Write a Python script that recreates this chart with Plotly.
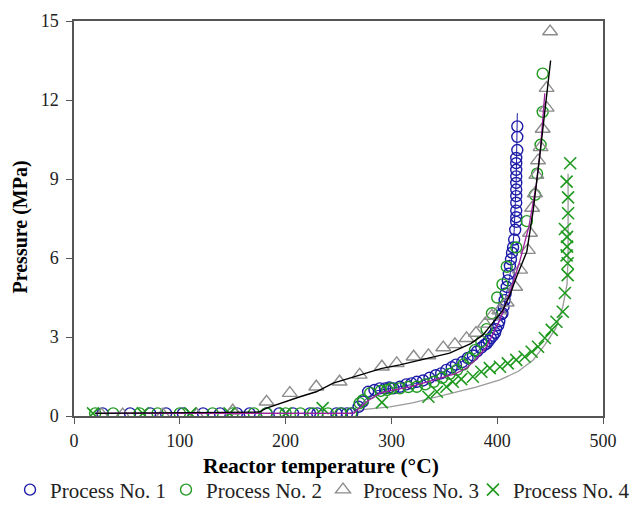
import plotly.graph_objects as go

# ---------------- data ----------------
p1_x = [27, 53, 72, 87, 103, 122, 138, 154, 166, 182, 194, 207, 223, 230, 248, 253, 258, 263,
        269, 273, 278, 284, 289, 294, 298, 302, 308, 314, 319, 324, 330, 336, 342, 347, 352, 357,
        361, 367, 372, 377, 381, 385, 388, 390, 392, 394, 396, 398, 399, 401, 402, 404,
        405, 406, 407, 408, 409, 410, 411, 412, 413, 414, 415, 416, 417, 418, 418, 418, 418,
        418, 418, 418, 418, 418, 418, 418, 419, 419, 419]
p1_y = [0.1] * 18 + [0.35, 0.55, 0.92, 0.99, 1.05, 1.05, 1.08, 1.05, 1.11, 1.2, 1.24, 1.3, 1.35,
        1.45, 1.55, 1.62, 1.75, 1.85, 1.95, 2.05, 2.2, 2.3, 2.45, 2.6, 2.7, 2.75, 2.85, 2.96,
        3.05, 3.16, 3.3, 3.45, 3.6, 3.86,
        3.9, 4.15, 4.4, 4.65, 4.9, 5.15, 5.4, 5.7, 5.95, 6.2, 6.4, 6.7, 7.07, 7.37, 7.55, 7.8,
        8.1, 8.35, 8.6, 8.85, 9.1, 9.35, 9.6, 9.8, 10.1, 10.6, 11.0, 11.13, 11.5]

p2_x = [20, 37, 62, 79, 100, 131, 150, 170, 182, 200, 214, 226, 240, 252, 262,
        270, 273, 280, 290, 296, 300, 308, 316, 324, 332, 340, 348, 355, 362, 368, 374, 379,
        385, 390, 395, 400, 405, 409, 418, 428, 435.7, 437.7, 441, 443, 443]
p2_y = [0.1, 0.1, 0.1, 0.1, 0.1, 0.1, 0.1, 0.1, 0.1, 0.1, 0.1, 0.1, 0.1, 0.1, 0.1,
        0.49, 0.6, 0.87, 0.95, 0.99, 1.05, 1.05, 1.1, 1.11, 1.2, 1.3, 1.45, 1.6, 1.75, 1.95, 2.2,
        2.5, 2.82, 3.3, 3.9, 4.5, 5.0, 5.67, 6.4, 7.4, 8.4, 9.2, 10.3, 11.55, 13.0]

p3_x = [26, 46, 84, 116, 150, 182, 204, 229, 251, 270, 291, 305, 321, 335, 349, 360, 371, 380,
        388.5, 395, 402, 409, 417, 421.6, 429, 431, 433, 435.7, 437, 438.6, 441, 443, 446.7,
        446.7, 450]
p3_y = [0.05, 0.05, 0.05, 0.05, 0.2, 0.54, 0.87, 1.11, 1.3, 1.56, 1.87, 2.0, 2.25, 2.3, 2.6,
        2.72, 2.95, 3.15, 3.5, 3.8, 4.0, 4.3, 4.9, 5.55, 6.3, 6.95, 7.9, 8.45, 9.15, 9.7, 10.2,
        10.9, 11.7, 12.45, 14.6]

p4_x = [18, 65, 110, 147, 200, 235, 291, 335, 343, 352, 358, 366, 377, 385, 393, 402.6, 410,
        418, 426, 432.6, 438.6, 445, 451.5, 456, 462, 464, 466.6, 466.6, 465.6, 466, 466, 464,
        467, 467, 465.6, 469]
p4_y = [0.1, 0.1, 0.1, 0.1, 0.1, 0.3, 0.52, 0.73, 0.92, 1.11, 1.3, 1.4, 1.49, 1.68, 1.82, 1.87,
        2.0, 2.13, 2.25, 2.44, 2.63, 2.96, 3.27, 3.58, 3.96, 4.67, 5.35, 5.8, 6.1, 6.43, 6.8,
        7.1, 7.7, 8.3, 8.9, 9.6]

# fitted curves
f1_x = [20, 265, 275, 285, 300, 320, 340, 360, 380, 395, 405, 412, 416, 418, 419]
f1_y = [0.1, 0.1, 0.6, 0.95, 1.05, 1.2, 1.5, 1.9, 2.4, 3.0, 3.9, 5.3, 7.0, 9.0, 11.5]

f2_x = [20, 264, 276.6, 289, 300, 317.6, 330, 346, 360, 371, 380, 390, 402.6, 415, 421.6,
        430, 437, 441, 445]
f2_y = [0.1, 0.1, 0.54, 0.87, 0.97, 1.11, 1.25, 1.44, 1.6, 1.82, 2.15, 2.63, 3.65, 5.05, 5.92,
        7.2, 8.8, 10.2, 12.25]

f3_x = [20, 175, 182, 200, 213.6, 229, 245, 270, 290, 308, 330, 355, 375, 386.6, 395, 405.5,
        412, 418.4, 428, 434, 440, 445, 450.5]
f3_y = [0.1, 0.15, 0.3, 0.55, 0.73, 0.92, 1.25, 1.55, 1.8, 1.94, 2.15, 2.39, 2.75, 3.08, 3.5,
        4.03, 4.6, 5.3, 6.24, 7.8, 9.8, 11.5, 13.5]

f4_x = [20, 260, 275, 298.7, 320, 338, 360, 380, 402.6, 420, 434, 445, 455, 462, 466, 467,
        467, 467]
f4_y = [0.1, 0.1, 0.25, 0.35, 0.5, 0.67, 0.9, 1.1, 1.37, 1.7, 2.13, 2.7, 3.3, 4.15, 5.0, 6.0,
        7.5, 9.2]

names = ["Process No. 1", "Process No. 2", "Process No. 3", "Process No. 4"]
x_ticks = [0, 100, 200, 300, 400, 500]
y_ticks = [0, 3, 6, 9, 12, 15]
x_title = "Reactor temperature (°C)"
y_title = "Pressure (MPa)"

BLUE = "#1c1ca8"
GREEN = "#1f9a1f"
GRAY = "#8c8c8c"
MAGENTA = "#a0209f"
FONT = "Liberation Serif"

fig = go.Figure()

# fitted lines (no legend)
fig.add_trace(go.Scatter(x=f1_x, y=f1_y, mode="lines", line=dict(color=BLUE, width=1),
                         showlegend=False, hoverinfo="skip"))
fig.add_trace(go.Scatter(x=f4_x, y=f4_y, mode="lines", line=dict(color="#9a9a9a", width=1.3),
                         showlegend=False, hoverinfo="skip"))

# markers
fig.add_trace(go.Scatter(x=p1_x, y=p1_y, mode="markers", name=names[0], legend="legend",
                         marker=dict(symbol="circle-open", size=11, color=BLUE,
                                     line=dict(width=1.4, color=BLUE))))
fig.add_trace(go.Scatter(x=p2_x, y=p2_y, mode="markers", name=names[1], legend="legend2",
                         marker=dict(symbol="circle-open", size=11, color=GREEN,
                                     line=dict(width=1.4, color=GREEN))))
fig.add_trace(go.Scatter(x=p3_x, y=p3_y, mode="markers", name=names[2], legend="legend3",
                         marker=dict(symbol="triangle-up-open", size=13, color=GRAY,
                                     line=dict(width=1.4, color=GRAY))))
fig.add_trace(go.Scatter(x=p4_x, y=p4_y, mode="markers", name=names[3], legend="legend4",
                         marker=dict(symbol="x-thin-open", size=12, color=GREEN,
                                     line=dict(width=1.6, color=GREEN))))

fig.add_trace(go.Scatter(x=f2_x, y=f2_y, mode="lines", line=dict(color=MAGENTA, width=1.3),
                         showlegend=False, hoverinfo="skip"))
fig.add_trace(go.Scatter(x=f3_x, y=f3_y, mode="lines", line=dict(color="black", width=1.4),
                         showlegend=False, hoverinfo="skip"))

axis_common = dict(showgrid=False, zeroline=False, showline=True, linecolor="#555555",
                   linewidth=1.5, mirror=True, ticks="outside", ticklen=6, tickwidth=1.3,
                   tickcolor="#555555", automargin=False,
                   tickfont=dict(family=FONT, size=18, color="#222222"))

fig.update_xaxes(range=[0, 500], tickvals=x_ticks, ticklabelstandoff=2, **axis_common)
fig.update_yaxes(range=[0, 15], tickvals=y_ticks, ticklabelstandoff=4, **axis_common)

# axis titles placed as annotations for exact positioning
fig.add_annotation(text=f"<b>{x_title}</b>", xref="paper", yref="paper", x=0.5, y=0,
                   xanchor="center", yanchor="middle", xshift=-18, yshift=-50,
                   showarrow=False, font=dict(family=FONT, size=21.5, color="black"))
fig.add_annotation(text=f"<b>{y_title}</b>", xref="paper", yref="paper", x=0, y=0.5,
                   xanchor="center", yanchor="middle", xshift=-54, yshift=-9, textangle=-90,
                   showarrow=False, font=dict(family=FONT, size=20, color="black"))

legend_x = [0.0032, 0.2508, 0.5, 0.738]
leg_common = dict(orientation="h", xref="container", yref="container", xanchor="left",
                  y=0.053, yanchor="middle", bgcolor="rgba(0,0,0,0)",
                  font=dict(family=FONT, size=21, color="#222222"), itemwidth=30)

# the page body adds an 8px offset, so the figure is sized to fill the rest of the window
fig.update_layout(
    width=630, height=509,
    margin=dict(l=66, r=35, t=13, b=101, autoexpand=False),
    plot_bgcolor="white", paper_bgcolor="white",
    font=dict(family=FONT, color="black"),
    legend=dict(x=legend_x[0], **leg_common),
    legend2=dict(x=legend_x[1], **leg_common),
    legend3=dict(x=legend_x[2], **leg_common),
    legend4=dict(x=legend_x[3], **leg_common),
)

fig.write_html("out.html")
